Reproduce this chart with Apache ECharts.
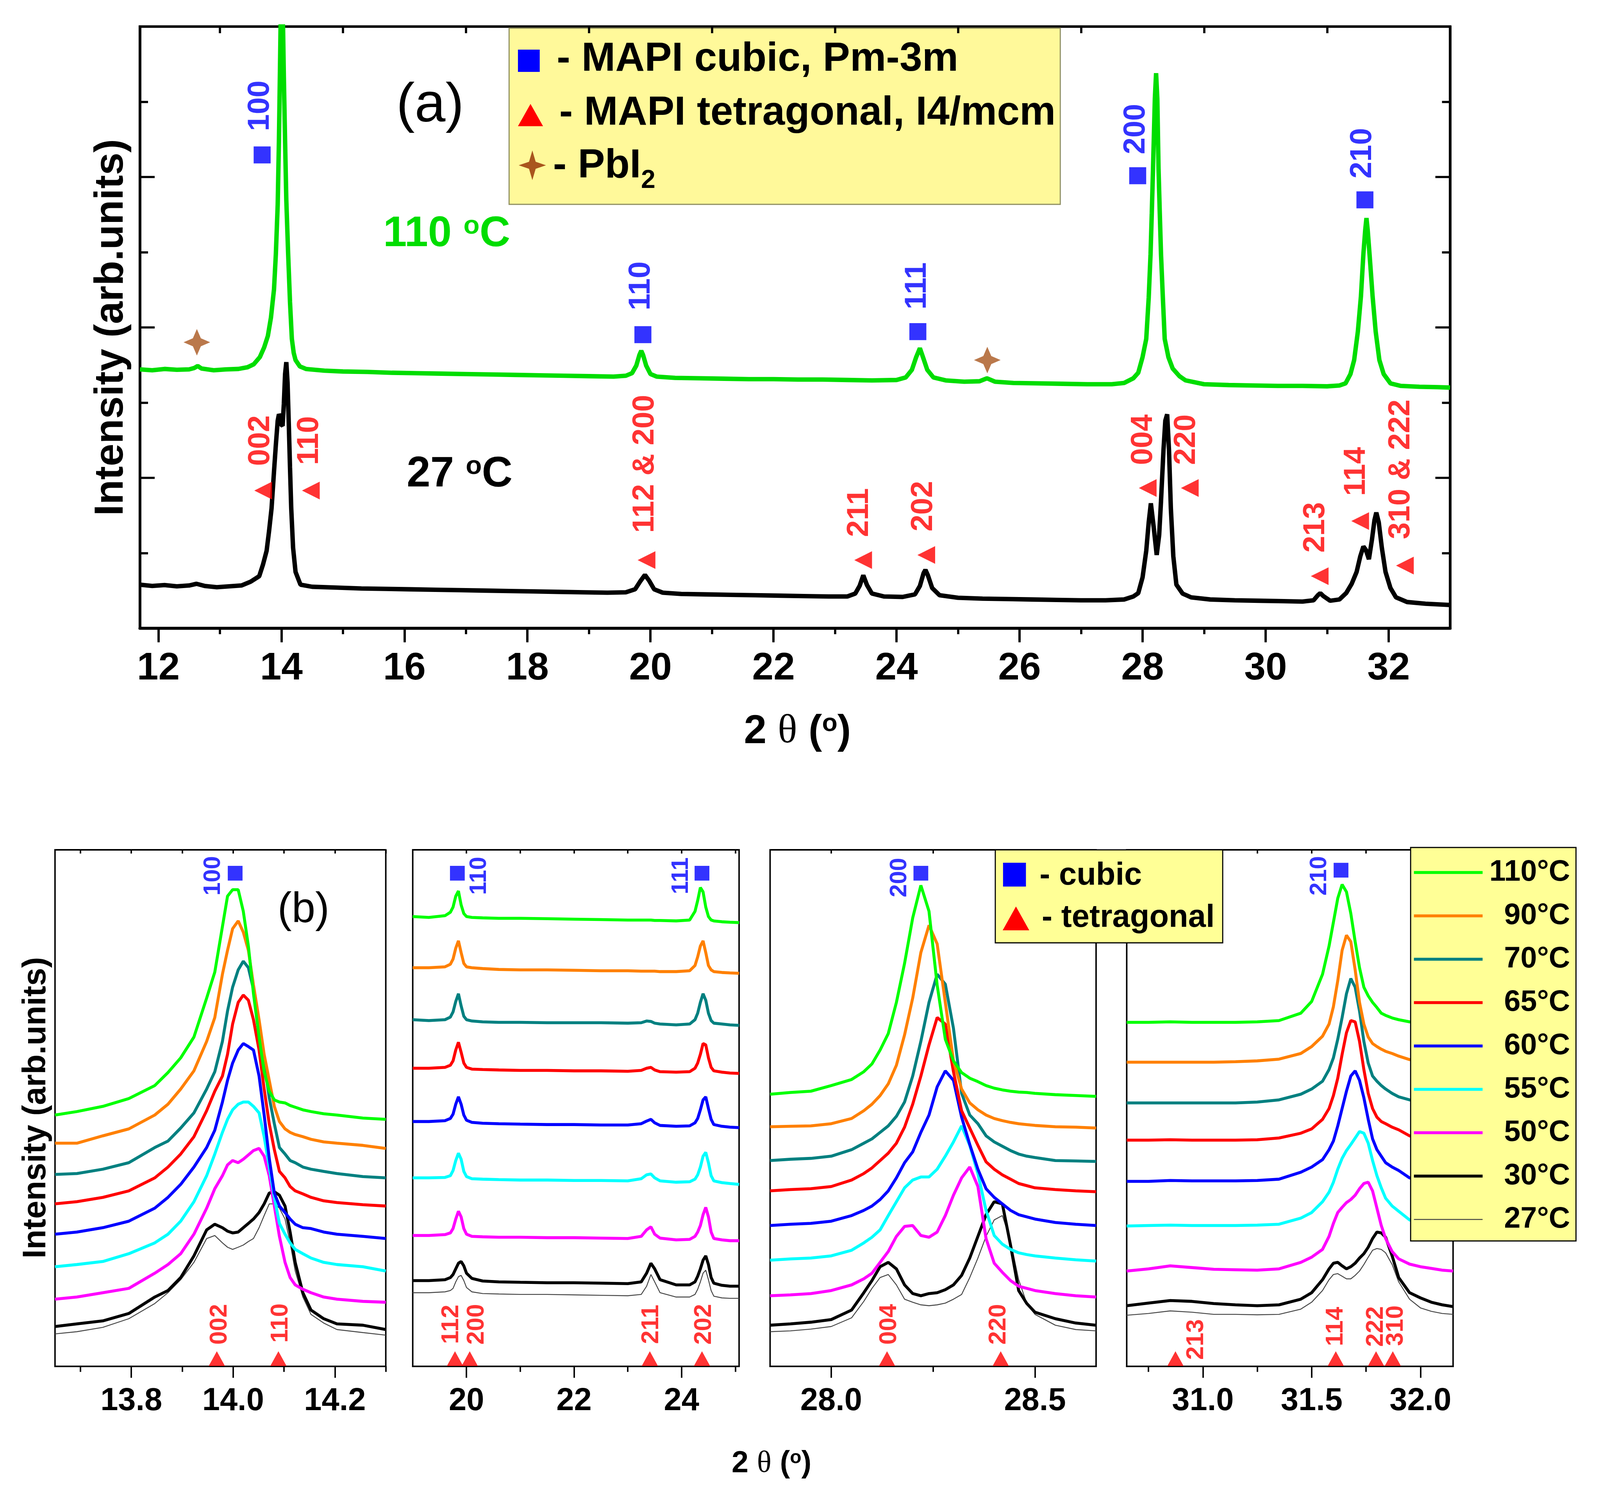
<!DOCTYPE html>
<html>
<head>
<meta charset="utf-8">
<title>MAPI XRD</title>
<script src="https://cdn.jsdelivr.net/npm/echarts@6.0.0/dist/echarts.min.js"></script>
<style>
html, body { margin: 0; padding: 0; background: #fff; overflow: hidden; }
#chart { width: 100vw; height: 100vh; }
</style>
</head>
<body>
<div id="chart"></div>
<script>
// ---------- panel (a): full scans, [2theta, intensity (arb.)] ----------
var top110 = [[11.70,611],[11.90,609],[12.10,612],[12.30,610],[12.50,611],[12.58,614],[12.64,619],[12.70,613],[12.90,609],[13.10,611],[13.30,612],[13.45,616],[13.55,623],[13.65,640],[13.72,663],[13.78,690],[13.83,733],[13.88,800],[13.91,883],[13.94,1000],[13.96,1150],[13.98,1350],[14.00,1560],[14.02,1480],[14.04,1300],[14.06,1150],[14.08,1010],[14.11,883],[14.14,770],[14.17,683],[14.20,650],[14.23,633],[14.30,618],[14.40,612],[14.70,608],[15.00,606],[15.40,605],[15.80,603],[16.20,602],[16.60,601],[17.00,600],[17.40,599],[17.80,598],[18.20,597],[18.60,596],[19.00,595],[19.40,594],[19.60,596],[19.70,602],[19.77,620],[19.82,645],[19.85,655],[19.88,645],[19.93,620],[20.00,600],[20.10,594],[20.40,591],[20.80,590],[21.20,589],[21.60,588],[22.00,588],[22.40,587],[22.80,587],[23.20,586],[23.60,585],[24.00,586],[24.15,592],[24.25,610],[24.32,640],[24.38,661],[24.43,640],[24.50,610],[24.60,592],[24.80,585],[25.10,582],[25.35,583],[25.47,590],[25.60,582],[25.90,579],[26.30,578],[26.70,577],[27.10,576],[27.50,576],[27.70,579],[27.85,590],[27.93,603],[28.00,640],[28.06,683],[28.10,780],[28.13,883],[28.15,980],[28.17,1083],[28.20,1250],[28.22,1310],[28.24,1250],[28.26,1083],[28.28,980],[28.30,883],[28.33,780],[28.36,683],[28.42,640],[28.49,613],[28.60,595],[28.70,585],[29.00,576],[29.40,574],[29.80,573],[30.20,572],[30.60,572],[31.00,571],[31.20,573],[31.30,578],[31.38,600],[31.44,633],[31.50,700],[31.55,783],[31.59,883],[31.62,940],[31.64,968],[31.66,940],[31.69,883],[31.74,783],[31.79,700],[31.85,633],[31.92,600],[32.03,578],[32.20,572],[32.50,570],[32.80,569],[33.00,568]];

var top27 = [[11.70,103],[11.90,100],[12.10,102],[12.30,99],[12.50,101],[12.62,105],[12.75,100],[12.95,97],[13.15,99],[13.35,101],[13.50,110],[13.64,123],[13.70,150],[13.76,183],[13.80,230],[13.84,283],[13.88,370],[13.91,433],[13.94,490],[13.96,505],[13.98,500],[14.00,480],[14.02,478],[14.04,530],[14.06,600],[14.08,628],[14.10,580],[14.12,483],[14.14,380],[14.16,283],[14.19,190],[14.23,133],[14.31,103],[14.50,98],[14.90,96],[15.30,94],[15.70,93],[16.10,92],[16.50,91],[16.90,90],[17.30,89],[17.70,88],[18.10,87],[18.50,86],[18.90,85],[19.30,84],[19.60,85],[19.75,92],[19.83,110],[19.91,126],[19.98,112],[20.06,92],[20.20,84],[20.50,81],[20.90,80],[21.30,79],[21.70,78],[22.10,77],[22.50,76],[22.90,75],[23.20,75],[23.33,82],[23.40,100],[23.46,125],[23.52,102],[23.60,82],[23.80,75],[24.10,74],[24.30,80],[24.38,100],[24.44,130],[24.47,138],[24.51,125],[24.58,95],[24.70,78],[25.00,72],[25.40,70],[25.80,69],[26.20,68],[26.60,67],[27.00,66],[27.40,66],[27.70,68],[27.85,75],[27.93,83],[28.00,120],[28.06,183],[28.10,250],[28.135,295],[28.18,240],[28.23,173],[28.27,220],[28.30,300],[28.34,420],[28.37,490],[28.40,505],[28.43,420],[28.46,283],[28.50,170],[28.55,103],[28.65,82],[28.79,73],[29.10,68],[29.50,66],[29.90,65],[30.30,64],[30.60,63],[30.78,66],[30.85,78],[30.89,83],[30.94,76],[31.05,65],[31.20,68],[31.31,83],[31.40,105],[31.48,133],[31.54,170],[31.59,193],[31.63,185],[31.68,163],[31.73,210],[31.77,255],[31.80,273],[31.84,250],[31.89,190],[31.95,133],[32.03,95],[32.12,73],[32.30,62],[32.60,58],[33.00,55]];

// peak markers in (a): [2theta, intensity(, text)]
var aCubic = [[13.687,1117],[19.877,693],[24.347,700],[27.921,1068],[31.615,1011]];
var aCubicLbl = [[13.66,1233,'100'],[19.852,808,'110'],[24.339,808,'111'],[27.896,1178,'200'],[31.581,1121,'210']];
var aTetra = [[13.704,325],[14.479,325],[19.936,161],[23.458,161],[24.484,173],[28.084,331],[28.768,331],[30.880,123],[31.538,253],[32.265,148]];
var aTetraLbl = [[13.662,443,'002'],[14.462,443,'110'],[19.911,388,'112 & 200'],[23.398,273,'211'],[24.441,288,'202'],[28.016,445,'004'],[28.717,445,'220'],[30.820,238,'213'],[31.478,370,'114'],[32.205,375,'310 & 222']];
var aPbI2 = [[12.626,675],[25.476,633]];

var topMajor = [12,14,16,18,20,22,24,26,28,30,32];
var topMinor = [13,15,17,19,21,23,25,27,29,31];

// ---------- panel (b): zoomed regions ----------
var temps = ['110°C','90°C','70°C','65°C','60°C','55°C','50°C','30°C','27°C'];
var colors = ['#00ff00','#ff8000','#008080','#ff0000','#0000ff','#00ffff','#ff00ff','#000000','#444444'];

var p1X = [13.65,13.693,13.744,13.795,13.846,13.872,13.897,13.923,13.948,13.964,13.979,13.989,13.999,14.010,14.020,14.030,14.040,14.051,14.061,14.071,14.081,14.091,14.102,14.112,14.122,14.137,14.153,14.178,14.204,14.255,14.300];
var p1Y = [
  [580,588,600,618,648,678,712,760,850,910,1015,1085,1100,1100,1050,970,860,760,680,635,615,610,608,602,598,592,588,583,580,573,570],
  [515,515,532,548,580,605,640,682,750,805,905,960,1010,1028,1002,960,880,800,720,660,600,565,548,540,535,530,524,518,515,510,503],
  [443,445,455,470,505,520,550,585,640,680,750,820,875,915,935,920,870,790,700,620,560,505,490,475,470,460,455,450,445,438,435],
  [375,380,390,405,435,460,490,530,590,635,670,720,790,840,857,845,800,730,640,560,500,450,435,415,405,398,390,382,378,373,370],
  [305,310,320,335,365,390,420,460,505,545,610,660,700,730,745,738,730,670,580,480,400,370,355,340,328,320,318,310,305,300,295],
  [230,235,242,260,285,305,335,380,440,490,540,570,592,605,610,610,600,585,530,460,390,330,305,285,270,260,250,240,235,230,220],
  [155,160,170,180,215,235,260,305,365,410,440,465,475,470,478,488,498,503,485,440,370,300,240,205,188,178,170,160,155,150,148],
  [92,98,105,122,160,175,205,255,315,328,320,312,308,310,320,330,340,355,375,400,403,395,370,310,240,170,130,110,98,95,85],
  [75,80,90,110,145,170,200,240,295,302,285,275,270,275,280,288,295,320,348,375,375,365,340,285,220,160,120,100,85,78,72]
];

var p2X = [19.0,19.3,19.6,19.7,19.75,19.8,19.85,19.9,19.95,20.0,20.1,20.3,20.6,21.0,21.5,22.0,22.5,23.0,23.25,23.35,23.43,23.5,23.6,23.9,24.15,24.25,24.3,24.35,24.4,24.45,24.5,24.55,24.6,24.75,24.9,25.07];
var p2Y = [
  [1038,1036,1040,1048,1060,1085,1097,1065,1045,1038,1036,1035,1034,1034,1033,1032,1031,1030,1030,1030,1030,1029,1029,1028,1030,1050,1075,1105,1095,1060,1038,1030,1028,1026,1025,1024],
  [920,920,922,928,940,965,982,955,930,922,920,918,916,915,915,914,913,913,912,912,912,912,911,911,913,925,945,970,982,955,925,915,911,909,908,907],
  [800,798,800,806,818,842,860,832,808,800,797,795,794,794,793,793,793,792,793,797,796,792,790,788,790,800,815,840,860,845,815,798,792,790,788,787],
  [688,688,690,695,705,730,748,725,700,690,686,685,684,683,683,682,682,681,683,688,690,684,680,679,680,688,700,720,745,742,712,690,682,679,677,676],
  [565,565,567,572,582,605,622,605,580,568,563,561,560,559,558,558,557,557,560,566,570,562,556,554,555,562,572,592,615,622,595,570,558,554,552,551],
  [435,435,436,440,452,475,492,478,450,438,433,432,431,430,430,429,429,428,433,442,444,435,428,425,426,432,442,460,485,494,470,440,428,424,422,420],
  [302,302,304,308,318,340,358,345,318,305,300,299,298,298,297,297,296,295,300,315,322,305,296,292,293,300,310,325,350,367,345,310,295,292,290,290],
  [198,198,200,205,212,225,238,242,232,215,203,197,195,194,193,193,192,191,195,215,238,225,200,188,188,195,208,225,245,255,235,205,192,187,185,185],
  [170,170,172,175,180,195,207,210,198,182,172,168,167,166,166,165,164,163,166,185,212,195,170,160,160,166,178,195,215,222,200,175,162,158,157,157]
];

var p3X = [27.85,27.9,27.95,28.0,28.05,28.08,28.1,28.12,28.14,28.16,28.18,28.2,28.22,28.24,28.26,28.28,28.3,28.32,28.34,28.36,28.38,28.4,28.42,28.44,28.46,28.48,28.5,28.55,28.6,28.65];
var p3Y = [
  [628,632,635,648,662,680,698,730,768,840,930,1035,1110,1050,880,755,705,678,665,657,648,642,638,635,633,632,630,627,625,623],
  [553,554,555,560,572,590,605,625,652,695,765,850,955,1018,975,840,705,640,608,592,580,572,567,563,560,558,556,553,552,550],
  [475,478,480,485,500,515,525,540,555,577,610,670,750,840,905,882,780,630,580,560,532,518,508,498,490,485,482,475,474,473],
  [405,408,410,415,430,445,458,475,492,515,552,605,670,742,805,790,680,590,550,510,472,455,442,432,422,417,412,408,405,403],
  [325,328,330,335,348,360,370,385,405,435,470,495,540,580,645,682,660,575,512,455,410,390,375,360,350,345,340,332,328,325],
  [245,248,250,255,268,285,298,315,348,380,412,430,437,437,455,485,518,555,510,445,360,302,282,270,262,258,255,250,246,243],
  [163,165,168,175,188,202,215,240,265,300,323,325,302,298,310,348,395,435,460,415,295,238,217,198,185,180,175,168,163,160],
  [95,98,102,108,130,170,198,230,240,225,188,168,163,168,170,177,188,210,250,300,350,380,375,280,175,145,125,110,100,95],
  [80,82,86,92,112,150,180,205,212,188,155,148,142,140,142,146,155,166,205,250,300,338,348,290,200,145,120,95,85,82]
];

var p4X = [30.65,30.75,30.85,30.95,31.05,31.15,31.25,31.35,31.45,31.5,31.55,31.58,31.6,31.62,31.64,31.66,31.68,31.7,31.72,31.74,31.76,31.78,31.8,31.82,31.84,31.87,31.9,31.95,32.0,32.05,32.1,32.15];
var p4Y = [
  [794,794,795,794,794,794,795,798,815,842,905,970,1025,1080,1112,1095,1045,980,920,875,855,840,828,815,810,804,800,795,794,793,792,792],
  [702,702,702,702,702,703,705,709,722,738,762,790,830,890,960,995,980,915,840,790,760,745,738,732,727,722,716,708,705,704,703,702],
  [608,608,608,608,608,608,610,615,628,640,658,685,712,755,805,860,895,875,820,750,700,670,658,648,640,630,622,615,612,610,610,609],
  [522,522,523,522,522,522,523,527,538,548,570,595,625,665,720,770,798,795,750,685,630,595,575,565,560,552,546,532,527,525,524,523],
  [427,427,429,428,428,428,429,432,448,460,477,500,520,555,595,635,670,682,660,620,570,525,500,485,470,460,452,435,430,429,428,427],
  [324,325,326,325,325,325,326,328,342,355,380,402,425,455,480,498,512,527,542,538,515,475,440,412,388,370,358,338,330,328,326,325],
  [220,225,232,228,224,223,222,225,240,252,270,300,330,355,367,378,385,395,410,422,425,405,365,325,295,265,248,236,230,226,222,220],
  [140,146,152,150,145,142,140,142,155,170,200,225,238,240,232,225,230,238,250,260,275,295,310,308,298,255,205,170,158,148,142,138],
  [118,122,128,125,120,120,119,120,132,148,175,200,212,214,208,202,202,210,220,235,252,268,272,270,262,235,195,155,135,127,122,120]
];

// markers in (b): [panel, 2theta, intensity(, text)]
var bSquares = [[0,14.004,1138],[1,19.83,1138],[1,24.38,1138],[2,28.22,1138],[3,31.635,1145]];
var bSquareLbl = [[0,13.961,1132,'100'],[1,20.24,1132,'110'],[1,24.0,1132,'111'],[2,28.168,1128,'200'],[3,31.537,1132,'210']];
var bTriangles = [[0,13.968,18],[0,14.089,18],[1,19.786,18],[1,20.06,18],[1,23.41,18],[1,24.38,18],[2,28.137,18],[2,28.416,18],[3,30.874,18],[3,31.611,18],[3,31.796,18],[3,31.873,18]];
var bTriLbl = [[0,13.974,97,'002'],[0,14.094,100,'110'],[1,19.72,97,'112'],[1,20.19,97,'200'],[1,23.44,97,'211'],[1,24.42,97,'202'],[2,28.143,97,'004'],[2,28.411,97,'220'],[3,30.971,62,'213'],[3,31.611,92,'114'],[3,31.796,92,'222'],[3,31.887,94,'310']];

var pRange = [[13.65,14.30],[19.0,25.07],[27.85,28.65],[30.65,32.15]];
var pMinor = [[13.7,13.9,14.1,14.3],[21,23,25],[28.25],[30.75,31.25,31.75]];
var pLabels = [[13.8,14.0,14.2],[20,22,24],[28.0,28.5],[31.0,31.5,32.0]];
var pDec = [1,0,1,1];

// ---------- layout scale (design is 4334 x 3839) ----------
var W = window.innerWidth || 4334, H = window.innerHeight || 3839;
var sx = W / 4334, sy = H / 3839, sm = Math.min(sx, sy);
function X(v) { return v * sx; }
function Y(v) { return v * sy; }
function F(v) { return v * sm; }

var FONT = "'Liberation Sans', Arial, Helvetica, sans-serif";
var chart = echarts.init(document.getElementById('chart'));

function gridAt(l, t, w, h, bw) {
  return {left: X(l), top: Y(t), width: X(w), height: Y(h), show: true, borderColor: '#000', borderWidth: F(bw)};
}
var grids = [
  gridAt(379, 68, 3549, 1540, 7),
  gridAt(149, 2175, 896, 1322, 4),
  gridAt(1118, 2175, 884, 1322, 4),
  gridAt(2086, 2175, 883, 1322, 4),
  gridAt(3052, 2175, 884, 1322, 4)
];

function tickAxis(gi, min, max, pos, ticks, len, inside, w, extra) {
  var ax = {gridIndex: gi, type: 'value', min: min, max: max, position: pos,
    axisLine: {show: false},
    axisTick: {show: true, inside: inside, length: F(len), customValues: ticks, lineStyle: {color: '#000', width: F(w)}},
    axisLabel: {show: false}, splitLine: {show: false}};
  if (extra) for (var k in extra) ax[k] = extra[k];
  return ax;
}

var xAxes = [
  tickAxis(0, 11.7, 33, 'bottom', topMajor, 33, false, 6, {
    axisLine: {show: true, onZero: false, lineStyle: {color: '#000', width: F(8)}},
    axisLabel: {show: true, customValues: topMajor, margin: F(58), fontSize: F(104), fontWeight: 'bold', fontFamily: FONT, color: '#000'}}),
  tickAxis(0, 11.7, 33, 'bottom', topMinor, 16, false, 6),
  tickAxis(0, 11.7, 33, 'top', topMajor, 38, true, 6, {z: 4}),
  tickAxis(0, 11.7, 33, 'top', topMinor, 18, true, 6, {z: 4})
];

var yAxisTop = function (pos) {
  return {gridIndex: 0, type: 'value', min: 0, max: 1420, interval: 355, position: pos,
    axisLine: {show: true, onZero: false, lineStyle: {color: '#000', width: F(7)}},
    axisTick: {show: true, inside: true, length: F(40), lineStyle: {color: '#000', width: F(6)}},
    minorTick: {show: true, splitNumber: 2, length: F(22), lineStyle: {color: '#000', width: F(6)}},
    axisLabel: {show: false}, splitLine: {show: false}, minorSplitLine: {show: false}};
};
var yAxes = [yAxisTop('left'), yAxisTop('right')];

for (var p = 0; p < 4; p++) {
  (function (p) {
    var mn = pRange[p][0], mx = pRange[p][1];
    var all = pLabels[p].concat(pMinor[p]);
    xAxes.push(tickAxis(p + 1, mn, mx, 'bottom', pLabels[p], 31, false, 4, {
      axisLine: {show: true, onZero: false, lineStyle: {color: '#000', width: F(4)}},
      axisLabel: {show: true, customValues: pLabels[p], margin: F(52), fontSize: F(86), fontWeight: 'bold', fontFamily: FONT, color: '#000',
        formatter: function (v) { return Number(v).toFixed(pDec[p]); }}}));
    xAxes.push(tickAxis(p + 1, mn, mx, 'bottom', pMinor[p], 15, false, 4));
    xAxes.push(tickAxis(p + 1, mn, mx, 'top', all, 10, true, 4));
    yAxes.push({gridIndex: p + 1, type: 'value', min: 0, max: 1192,
      axisLine: {show: false}, axisTick: {show: false}, axisLabel: {show: false}, splitLine: {show: false}});
  })(p);
}

function lbl(color, size) {
  return {show: true, position: 'inside', rotate: 90, color: color, fontSize: F(size), fontWeight: 'bold', fontFamily: FONT,
    formatter: function (q) { return q.data[2]; }};
}

var series = [
  {type: 'line', xAxisIndex: 0, yAxisIndex: 0, data: top27, showSymbol: false, symbol: 'none',
   lineStyle: {color: '#000', width: F(12)}, z: 2},
  {type: 'line', xAxisIndex: 0, yAxisIndex: 0, data: top110, showSymbol: false, symbol: 'none',
   lineStyle: {color: '#00dd00', width: F(12)}, z: 2},
  {type: 'scatter', xAxisIndex: 0, yAxisIndex: 0, data: aCubic, symbol: 'rect', symbolSize: F(46),
   itemStyle: {color: '#0000ff'}, z: 5},
  {type: 'scatter', xAxisIndex: 0, yAxisIndex: 0, data: aTetra, symbol: 'triangle', symbolRotate: 90, symbolSize: F(48),
   itemStyle: {color: '#ff0000'}, z: 5},
  {type: 'scatter', xAxisIndex: 0, yAxisIndex: 0, data: aPbI2,
   symbol: 'path://M0,-10 L3,-3 L10,0 L3,3 L0,10 L-3,3 L-10,0 L-3,-3 Z', symbolSize: F(72),
   itemStyle: {color: '#a9561e'}, z: 5},
  {type: 'scatter', xAxisIndex: 0, yAxisIndex: 0, data: aCubicLbl, symbolSize: 2,
   itemStyle: {color: 'rgba(0,0,0,0)'}, label: lbl('#0000ff', 82), z: 6},
  {type: 'scatter', xAxisIndex: 0, yAxisIndex: 0, data: aTetraLbl, symbolSize: 2,
   itemStyle: {color: 'rgba(0,0,0,0)'}, label: lbl('#ff0000', 82), z: 6}
];

var pX = [p1X, p2X, p3X, p4X];
var pY = [p1Y, p2Y, p3Y, p4Y];
for (var p = 0; p < 4; p++) {
  var xi = 4 + 3 * p, yi = 2 + p;
  for (var k = temps.length - 1; k >= 0; k--) {
    var d = pX[p].map(function (x, i) { return [x, pY[p][k][i]]; });
    series.push({type: 'line', name: temps[k], xAxisIndex: xi, yAxisIndex: yi, data: d,
      showSymbol: false, symbol: 'none',
      lineStyle: {color: colors[k], width: F(k === 8 ? 2.5 : 8)}, z: 2});
  }
  var pick = function (arr) {
    return arr.filter(function (r) { return r[0] === p; }).map(function (r) { return r.slice(1); });
  };
  series.push({type: 'scatter', xAxisIndex: xi, yAxisIndex: yi, data: pick(bSquares),
    symbol: 'rect', symbolSize: F(40), itemStyle: {color: '#0000ff'}, z: 5});
  series.push({type: 'scatter', xAxisIndex: xi, yAxisIndex: yi, data: pick(bTriangles),
    symbol: 'triangle', symbolSize: [F(44), F(40)], itemStyle: {color: '#ff0000'}, z: 5});
  series.push({type: 'scatter', xAxisIndex: xi, yAxisIndex: yi, data: pick(bSquareLbl),
    symbolSize: 2, itemStyle: {color: 'rgba(0,0,0,0)'}, label: lbl('#0000ff', 64), z: 6});
  series.push({type: 'scatter', xAxisIndex: xi, yAxisIndex: yi, data: pick(bTriLbl),
    symbolSize: 2, itemStyle: {color: 'rgba(0,0,0,0)'}, label: lbl('#ff0000', 66), z: 6});
}

// ---------- graphic texts and legends ----------
function T(x, y, text, size, color, opt) {
  opt = opt || {};
  var al = opt.align || 'left';
  var st = {text: text, fill: color || '#000',
    font: (opt.weight || 'bold') + ' ' + F(size) + 'px ' + FONT,
    textAlign: al, align: al, textVerticalAlign: 'middle', verticalAlign: 'middle'};
  if (opt.rich) st.rich = opt.rich;
  return {type: 'text', x: X(x), y: Y(y), rotation: opt.rotation || 0, z: opt.z || 120, style: st};
}
function R(x, y, w, h, fill, stroke, z) {
  return {type: 'rect', z: z, shape: {x: X(x), y: Y(y), width: X(w), height: Y(h)},
    style: {fill: fill, stroke: stroke || null, lineWidth: stroke ? F(3) : 0}};
}
function PG(pts, fill, z) {
  return {type: 'polygon', z: z, shape: {points: pts.map(function (q) { return [X(q[0]), Y(q[1])]; })}, style: {fill: fill}};
}
var supRich = function (size, color) {
  return {
    a: {fontSize: F(size), fontWeight: 'bold', fontFamily: FONT, color: color, lineHeight: F(size)},
    s: {fontSize: F(size * 0.62), fontWeight: 'bold', fontFamily: FONT, color: color, verticalAlign: 'top', lineHeight: F(size)},
    t: {fontSize: F(size), fontFamily: "'Liberation Serif', 'DejaVu Serif', serif", color: color, lineHeight: F(size)}
  };
};

var graphics = [
  T(302, 838, 'Intensity (arb.units)', 110, '#000', {align: 'center', rotation: Math.PI / 2}),
  T(98, 2835, 'Intensity (arb.units)', 88, '#000', {align: 'center', rotation: Math.PI / 2}),
  T(2160, 1873, '{a|2 }{t|θ}{a| (}{s|o}{a|)}', 110, '#000', {align: 'center', rich: supRich(110, '#000')}),
  T(2090, 3747, '{a|2 }{t|θ}{a| (}{s|o}{a|)}', 82, '#000', {align: 'center', rich: supRich(82, '#000')}),
  T(1165, 272, '(a)', 150, '#000', {align: 'center', weight: 'normal'}),
  T(822, 2330, '(b)', 115, '#000', {align: 'center', weight: 'normal'}),
  T(1210, 600, '{a|110 }{s|o}{a|C}', 115, '#00dd00', {align: 'center', rich: supRich(115, '#00dd00')}),
  T(1245, 1215, '{a|27 }{s|o}{a|C}', 115, '#000', {align: 'center', rich: supRich(115, '#000')}),

  // legend (a)
  R(1379, 72, 1493, 451, '#fff99a', '#8f8f60', 3),
  R(1403, 127, 59, 57, '#0000ff', null, 4),
  PG([[1437, 266], [1471, 323], [1403, 323]], '#ff0000', 4),
  PG([[1442, 385], [1451, 414], [1479, 423], [1451, 432], [1442, 461], [1433, 432], [1405, 423], [1433, 414]], '#a9561e', 4),
  T(1508, 152, '- MAPI cubic, Pm-3m', 110, '#000', {z: 4}),
  T(1515, 290, '- MAPI tetragonal, I4/mcm', 110, '#000', {z: 4}),
  T(1498, 425, '{a|- PbI}{b|2}', 110, '#000', {z: 4, rich: {
    a: {fontSize: F(110), fontWeight: 'bold', fontFamily: FONT, color: '#000', lineHeight: F(110)},
    b: {fontSize: F(70), fontWeight: 'bold', fontFamily: FONT, color: '#000', verticalAlign: 'bottom', lineHeight: F(150)}}}),

  // legend (b) phases
  R(2696, 2175, 616, 238, '#ffff96', '#000', 110),
  R(2717, 2208, 62, 61, '#0000ff', null, 111),
  PG([[2752, 2320], [2788, 2381], [2716, 2381]], '#ff0000', 111),
  T(2816, 2242, '- cubic', 86, '#000', {z: 112}),
  T(2822, 2350, '- tetragonal', 86, '#000', {z: 112}),

  // legend (b) temperatures
  R(3821, 2169, 448, 1007, '#ffff96', '#000', 110)
];
temps.forEach(function (t, i) {
  var y = 2233 + i * 111;
  graphics.push({type: 'line', z: 111, shape: {x1: X(3830), y1: Y(y), x2: X(4016), y2: Y(y)},
    style: {stroke: colors[i], lineWidth: F(i === 8 ? 2.5 : 8)}});
  graphics.push(T(4253, y, t, 80, '#000', {z: 112, align: 'right'}));
});

chart.setOption({
  animation: false,
  backgroundColor: '#ffffff',
  grid: grids,
  xAxis: xAxes,
  yAxis: yAxes,
  series: series,
  graphic: {elements: graphics}
});
</script>
</body>
</html>
